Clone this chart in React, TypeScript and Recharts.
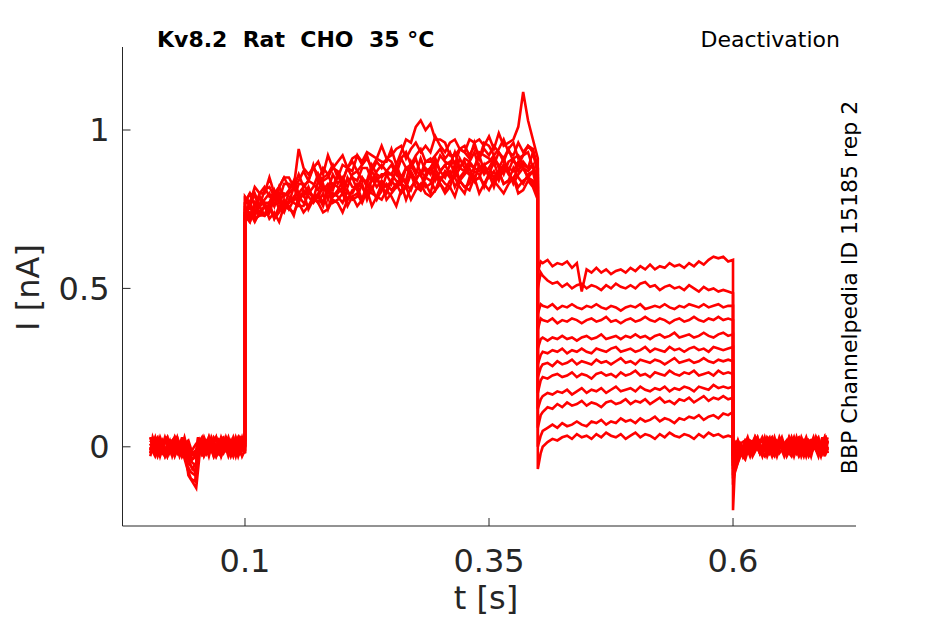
import { LineChart, Line, XAxis, YAxis } from 'recharts';

// time grids (s); sweeps alternate between grid A and grid B in the baseline segments
const tPreA = [
  0.003, 0.008, 0.013, 0.018, 0.023, 0.028, 0.033, 0.038, 0.042, 0.046, 0.05,
  0.054, 0.058, 0.063, 0.068, 0.073, 0.078, 0.083, 0.088, 0.093, 0.097, 0.1,
];
const tPreB = [
  0.003, 0.0055, 0.0105, 0.0155, 0.0205, 0.0255, 0.0305, 0.0355, 0.041, 0.0445, 0.049,
  0.052, 0.056, 0.0605, 0.0655, 0.0705, 0.0755, 0.0805, 0.0855, 0.0905, 0.095, 0.1,
];
const tStep = [
  0.1, 0.105, 0.11, 0.115, 0.12, 0.125, 0.13, 0.135, 0.14, 0.145,
  0.15, 0.155, 0.16, 0.165, 0.17, 0.175, 0.18, 0.185, 0.19, 0.195,
  0.2, 0.205, 0.21, 0.215, 0.22, 0.225, 0.23, 0.235, 0.24, 0.245,
  0.25, 0.255, 0.26, 0.265, 0.27, 0.275, 0.28, 0.285, 0.29, 0.295,
  0.3, 0.305, 0.31, 0.315, 0.32, 0.325, 0.33, 0.335, 0.34, 0.345,
  0.35, 0.355, 0.36, 0.365, 0.37, 0.375, 0.38, 0.385, 0.39, 0.395,
  0.4,
];
const tTail = [
  0.4, 0.403, 0.405, 0.41, 0.415, 0.42, 0.425, 0.43, 0.435, 0.44,
  0.445, 0.45, 0.455, 0.46, 0.465, 0.47, 0.475, 0.48, 0.485, 0.49,
  0.495, 0.5, 0.505, 0.51, 0.515, 0.52, 0.525, 0.53, 0.535, 0.54,
  0.545, 0.55, 0.555, 0.56, 0.565, 0.57, 0.575, 0.58, 0.585, 0.59,
  0.595, 0.6,
];
const tPostA = [
  0.6, 0.602, 0.605, 0.61, 0.615, 0.62, 0.625, 0.63, 0.635, 0.64, 0.645,
  0.65, 0.655, 0.66, 0.665, 0.67, 0.675, 0.68, 0.685, 0.69, 0.694, 0.697,
];
const tPostB = [
  0.6, 0.603, 0.6075, 0.6125, 0.6175, 0.6225, 0.6275, 0.6325, 0.6375, 0.6425, 0.6475,
  0.6525, 0.6575, 0.6625, 0.6675, 0.6725, 0.6775, 0.6825, 0.6875, 0.6915, 0.695, 0.697,
];

// current (nA), one row per sweep
const preSweeps = [
  [0.01, -0.02, 0.03, -0.01, 0.02, -0.03, 0.01, 0.02, -0.02, -0.04, -0.03, 0.02, -0.01, 0.03, -0.02, 0.01, 0.02, -0.03, 0.01, -0.01, 0.03, 0.0],
  [-0.02, 0.03, -0.01, 0.02, -0.03, 0.01, -0.02, 0.03, -0.06, -0.08, -0.09, 0.01, 0.03, -0.02, 0.02, -0.03, 0.0, 0.02, -0.02, 0.03, -0.01, 0.02],
  [0.03, -0.01, 0.02, -0.03, 0.01, 0.03, -0.02, 0.0, -0.09, -0.11, -0.13, -0.01, 0.02, 0.01, -0.03, 0.02, -0.01, 0.03, -0.02, 0.01, -0.03, -0.01],
  [-0.01, 0.02, -0.03, 0.01, 0.03, -0.02, 0.02, -0.01, -0.07, -0.1, -0.11, 0.03, -0.02, 0.02, 0.01, -0.02, 0.03, -0.01, 0.02, -0.03, 0.02, 0.01],
  [0.02, 0.0, -0.02, 0.03, -0.01, 0.02, -0.03, 0.01, -0.03, -0.05, -0.06, 0.0, 0.02, -0.03, 0.03, 0.01, -0.02, 0.01, -0.03, 0.02, 0.0, -0.02],
  [-0.03, 0.01, 0.03, -0.02, 0.0, -0.01, 0.03, -0.03, 0.01, -0.02, -0.03, -0.02, 0.01, 0.02, -0.01, 0.03, -0.03, 0.02, 0.01, -0.02, 0.03, 0.01],
  [0.0, -0.03, 0.01, 0.02, -0.02, 0.03, -0.01, 0.02, -0.04, -0.07, -0.05, 0.02, -0.03, 0.0, 0.02, -0.02, 0.01, -0.01, 0.03, -0.02, 0.01, 0.02],
  [0.02, 0.01, -0.02, 0.0, 0.03, -0.03, 0.01, -0.02, 0.01, -0.03, -0.02, -0.03, 0.02, -0.01, 0.0, 0.03, -0.01, 0.02, -0.03, 0.01, -0.02, 0.0],
  [-0.02, 0.02, 0.0, -0.03, 0.01, 0.01, -0.02, 0.03, -0.02, -0.01, 0.01, 0.02, -0.02, 0.03, -0.03, 0.0, 0.02, -0.02, 0.0, 0.03, -0.01, -0.01],
  [0.01, -0.01, 0.02, 0.01, -0.03, 0.02, 0.03, -0.01, -0.05, -0.06, -0.08, 0.01, 0.0, -0.02, 0.03, -0.01, -0.03, 0.03, -0.01, 0.0, 0.02, 0.02],
  [-0.01, 0.03, -0.03, 0.02, 0.02, -0.02, 0.0, 0.01, 0.02, -0.02, -0.01, -0.01, 0.03, -0.01, -0.02, 0.02, 0.03, -0.02, 0.02, -0.03, 0.01, -0.02],
  [0.03, 0.0, 0.01, -0.02, -0.01, 0.0, 0.02, -0.03, -0.01, -0.04, -0.03, 0.03, -0.03, 0.02, 0.01, -0.03, 0.01, 0.0, -0.01, 0.02, -0.02, 0.01],
];

const stepSweeps = [
  [0.78, 0.76, 0.8, 0.76, 0.78, 0.8, 0.76, 0.82, 0.79, 0.81, 0.84, 0.8, 0.82, 0.84, 0.83, 0.81, 0.85, 0.86, 0.82, 0.86, 0.84, 0.88, 0.85, 0.84, 0.88, 0.88, 0.84, 0.87, 0.89, 0.87, 0.89, 0.86, 0.91, 0.88, 0.88, 0.91, 0.86, 0.9, 0.91, 0.88, 0.92, 0.9, 0.89, 0.93, 0.88, 0.91, 0.9, 0.88, 0.93, 0.92, 0.91, 0.89, 0.93, 0.9, 0.94, 0.9, 0.89, 0.92, 0.93, 0.88, 0.85],
  [0.77, 0.8, 0.79, 0.76, 0.81, 0.82, 0.79, 0.82, 0.85, 0.82, 0.82, 0.84, 0.87, 0.84, 0.89, 0.84, 0.88, 0.86, 0.89, 0.85, 0.89, 0.88, 0.87, 0.92, 0.89, 0.91, 0.88, 0.91, 0.9, 0.9, 0.94, 0.89, 0.93, 0.97, 0.96, 1.01, 1.03, 1.0, 1.02, 0.97, 0.97, 0.96, 0.92, 0.92, 0.94, 0.95, 0.92, 0.95, 0.91, 0.96, 0.95, 0.92, 0.94, 0.97, 0.93, 0.92, 0.96, 0.93, 0.95, 0.94, 0.88],
  [0.79, 0.77, 0.82, 0.8, 0.8, 0.85, 0.8, 0.82, 0.85, 0.85, 0.82, 0.94, 0.88, 0.86, 0.88, 0.9, 0.86, 0.92, 0.88, 0.9, 0.92, 0.88, 0.91, 0.92, 0.9, 0.93, 0.92, 0.91, 0.95, 0.91, 0.92, 0.94, 0.95, 0.91, 0.94, 0.96, 0.93, 0.95, 0.93, 0.98, 0.95, 0.93, 0.96, 0.97, 0.94, 0.93, 0.97, 0.96, 0.97, 0.95, 0.98, 0.94, 0.99, 0.95, 0.96, 0.97, 1.01, 1.12, 1.03, 0.97, 0.91],
  [0.77, 0.8, 0.76, 0.8, 0.82, 0.79, 0.8, 0.78, 0.83, 0.83, 0.82, 0.86, 0.82, 0.84, 0.88, 0.86, 0.84, 0.85, 0.88, 0.87, 0.84, 0.88, 0.9, 0.87, 0.89, 0.92, 0.87, 0.9, 0.88, 0.91, 0.9, 0.87, 0.91, 0.93, 0.89, 0.92, 0.94, 0.9, 0.9, 0.92, 0.94, 0.91, 0.93, 0.89, 0.94, 0.93, 0.91, 0.96, 0.91, 0.94, 0.92, 0.95, 0.93, 0.91, 0.94, 0.96, 0.91, 0.92, 0.95, 0.93, 0.88],
  [0.74, 0.77, 0.73, 0.79, 0.77, 0.77, 0.81, 0.77, 0.8, 0.79, 0.78, 0.83, 0.83, 0.8, 0.82, 0.86, 0.82, 0.81, 0.86, 0.83, 0.85, 0.82, 0.86, 0.87, 0.84, 0.84, 0.89, 0.86, 0.85, 0.87, 0.86, 0.89, 0.85, 0.88, 0.89, 0.86, 0.91, 0.87, 0.88, 0.91, 0.87, 0.89, 0.9, 0.86, 0.91, 0.88, 0.9, 0.93, 0.88, 0.89, 0.9, 0.92, 0.88, 0.91, 0.87, 0.91, 0.92, 0.89, 0.88, 0.93, 0.86],
  [0.76, 0.73, 0.76, 0.79, 0.76, 0.75, 0.8, 0.77, 0.76, 0.8, 0.82, 0.8, 0.79, 0.82, 0.78, 0.84, 0.81, 0.83, 0.81, 0.86, 0.82, 0.84, 0.85, 0.81, 0.85, 0.83, 0.87, 0.84, 0.86, 0.86, 0.83, 0.88, 0.85, 0.84, 0.9, 0.87, 0.86, 0.88, 0.86, 0.9, 0.87, 0.85, 0.89, 0.9, 0.88, 0.87, 0.89, 0.88, 0.92, 0.87, 0.88, 0.91, 0.89, 0.86, 0.9, 0.91, 0.87, 0.9, 0.88, 0.89, 0.84],
  [0.73, 0.77, 0.73, 0.76, 0.77, 0.74, 0.79, 0.78, 0.76, 0.77, 0.82, 0.78, 0.8, 0.81, 0.79, 0.79, 0.83, 0.78, 0.83, 0.82, 0.8, 0.85, 0.82, 0.82, 0.85, 0.82, 0.84, 0.85, 0.81, 0.86, 0.86, 0.84, 0.83, 0.88, 0.86, 0.84, 0.87, 0.85, 0.88, 0.84, 0.87, 0.89, 0.86, 0.85, 0.88, 0.9, 0.86, 0.88, 0.87, 0.89, 0.86, 0.9, 0.85, 0.89, 0.88, 0.87, 0.9, 0.88, 0.87, 0.89, 0.83],
  [0.74, 0.72, 0.77, 0.74, 0.73, 0.77, 0.76, 0.8, 0.75, 0.77, 0.79, 0.77, 0.81, 0.79, 0.77, 0.79, 0.82, 0.81, 0.79, 0.81, 0.84, 0.8, 0.8, 0.83, 0.82, 0.79, 0.85, 0.82, 0.84, 0.82, 0.84, 0.87, 0.83, 0.82, 0.87, 0.84, 0.82, 0.86, 0.88, 0.86, 0.84, 0.87, 0.85, 0.89, 0.84, 0.86, 0.88, 0.84, 0.89, 0.86, 0.88, 0.85, 0.87, 0.89, 0.86, 0.84, 0.89, 0.88, 0.85, 0.87, 0.82],
  [0.73, 0.71, 0.76, 0.76, 0.73, 0.74, 0.79, 0.75, 0.78, 0.75, 0.78, 0.79, 0.8, 0.75, 0.78, 0.8, 0.77, 0.82, 0.79, 0.8, 0.82, 0.78, 0.81, 0.82, 0.78, 0.83, 0.81, 0.85, 0.82, 0.8, 0.84, 0.82, 0.85, 0.83, 0.81, 0.85, 0.86, 0.82, 0.83, 0.88, 0.84, 0.86, 0.87, 0.82, 0.85, 0.87, 0.86, 0.84, 0.85, 0.89, 0.85, 0.87, 0.84, 0.88, 0.87, 0.83, 0.86, 0.88, 0.85, 0.84, 0.81],
  [0.73, 0.76, 0.72, 0.73, 0.76, 0.76, 0.72, 0.76, 0.74, 0.78, 0.77, 0.76, 0.76, 0.8, 0.79, 0.77, 0.8, 0.75, 0.8, 0.79, 0.77, 0.81, 0.78, 0.79, 0.83, 0.78, 0.82, 0.78, 0.81, 0.83, 0.81, 0.83, 0.8, 0.82, 0.86, 0.82, 0.81, 0.85, 0.84, 0.81, 0.85, 0.83, 0.82, 0.87, 0.84, 0.82, 0.83, 0.87, 0.86, 0.82, 0.86, 0.84, 0.87, 0.83, 0.84, 0.88, 0.85, 0.83, 0.86, 0.87, 0.8],
  [0.73, 0.71, 0.75, 0.73, 0.73, 0.77, 0.72, 0.74, 0.77, 0.76, 0.73, 0.79, 0.77, 0.76, 0.78, 0.79, 0.76, 0.81, 0.77, 0.78, 0.8, 0.76, 0.79, 0.8, 0.77, 0.81, 0.8, 0.79, 0.83, 0.78, 0.8, 0.82, 0.83, 0.78, 0.82, 0.84, 0.81, 0.83, 0.8, 0.86, 0.83, 0.81, 0.84, 0.85, 0.82, 0.8, 0.85, 0.84, 0.85, 0.83, 0.86, 0.82, 0.87, 0.83, 0.84, 0.85, 0.82, 0.84, 0.85, 0.83, 0.79],
  [0.72, 0.74, 0.71, 0.74, 0.76, 0.72, 0.74, 0.71, 0.76, 0.75, 0.74, 0.77, 0.74, 0.76, 0.79, 0.77, 0.74, 0.75, 0.78, 0.77, 0.74, 0.78, 0.79, 0.76, 0.78, 0.81, 0.76, 0.79, 0.78, 0.81, 0.79, 0.76, 0.81, 0.82, 0.78, 0.81, 0.83, 0.8, 0.79, 0.81, 0.83, 0.8, 0.82, 0.79, 0.84, 0.82, 0.81, 0.85, 0.8, 0.83, 0.81, 0.84, 0.82, 0.8, 0.83, 0.85, 0.8, 0.81, 0.84, 0.82, 0.78],
];

const tailSweeps = [
  [0.55, 0.585, 0.58, 0.59, 0.57, 0.58, 0.575, 0.585, 0.565, 0.58, 0.49, 0.56, 0.55, 0.565, 0.55, 0.56, 0.545, 0.555, 0.56, 0.55, 0.565, 0.555, 0.57, 0.56, 0.575, 0.56, 0.57, 0.565, 0.58, 0.57, 0.575, 0.565, 0.58, 0.57, 0.585, 0.575, 0.59, 0.6, 0.595, 0.6, 0.585, 0.59],
  [0.5, 0.55, 0.54, 0.525, 0.515, 0.52, 0.505, 0.515, 0.5, 0.51, 0.515, 0.5, 0.51, 0.505, 0.495, 0.51, 0.5, 0.515, 0.505, 0.5, 0.51, 0.5, 0.515, 0.52, 0.505, 0.51, 0.495, 0.505, 0.51, 0.5, 0.505, 0.495, 0.51, 0.5, 0.49, 0.505, 0.495, 0.5, 0.49, 0.495, 0.49, 0.485],
  [0.42, 0.45, 0.445, 0.44, 0.45, 0.435, 0.445, 0.44, 0.45, 0.44, 0.435, 0.445, 0.44, 0.45, 0.44, 0.435, 0.445, 0.44, 0.43, 0.44, 0.445, 0.44, 0.45, 0.435, 0.44, 0.445, 0.44, 0.45, 0.44, 0.435, 0.445, 0.44, 0.45, 0.445, 0.44, 0.45, 0.44, 0.445, 0.45, 0.44, 0.445, 0.445],
  [0.37, 0.405, 0.4, 0.395, 0.405, 0.39, 0.4, 0.395, 0.405, 0.4, 0.39, 0.4, 0.405, 0.395, 0.4, 0.41, 0.395, 0.4, 0.39, 0.4, 0.405, 0.395, 0.4, 0.41, 0.4, 0.395, 0.405, 0.4, 0.39, 0.4, 0.405, 0.395, 0.4, 0.41, 0.4, 0.395, 0.405, 0.4, 0.41, 0.4, 0.405, 0.4],
  [0.31, 0.34, 0.345, 0.335, 0.345, 0.34, 0.35, 0.34, 0.345, 0.335, 0.345, 0.35, 0.34, 0.345, 0.355, 0.34, 0.345, 0.35, 0.34, 0.35, 0.345, 0.355, 0.345, 0.35, 0.34, 0.35, 0.355, 0.345, 0.35, 0.36, 0.345, 0.35, 0.355, 0.345, 0.35, 0.36, 0.35, 0.345, 0.355, 0.36, 0.35, 0.355],
  [0.26, 0.29, 0.3, 0.295, 0.305, 0.3, 0.31, 0.295, 0.305, 0.3, 0.31, 0.3, 0.295, 0.31, 0.305, 0.3, 0.31, 0.315, 0.3, 0.305, 0.31, 0.3, 0.305, 0.315, 0.3, 0.31, 0.305, 0.3, 0.315, 0.305, 0.31, 0.3, 0.31, 0.315, 0.305, 0.31, 0.3, 0.315, 0.31, 0.305, 0.31, 0.315],
  [0.22, 0.25, 0.26, 0.265, 0.255, 0.27, 0.26, 0.265, 0.275, 0.26, 0.27, 0.265, 0.26, 0.275, 0.265, 0.27, 0.26, 0.27, 0.28, 0.265, 0.27, 0.26, 0.275, 0.27, 0.265, 0.275, 0.27, 0.26, 0.27, 0.28, 0.265, 0.27, 0.275, 0.265, 0.27, 0.28, 0.27, 0.265, 0.275, 0.27, 0.275, 0.27],
  [0.17, 0.21, 0.22, 0.215, 0.225, 0.23, 0.22, 0.225, 0.235, 0.22, 0.23, 0.225, 0.215, 0.23, 0.235, 0.225, 0.23, 0.22, 0.235, 0.225, 0.23, 0.24, 0.225, 0.23, 0.22, 0.235, 0.23, 0.225, 0.24, 0.23, 0.225, 0.235, 0.23, 0.24, 0.225, 0.23, 0.235, 0.225, 0.24, 0.23, 0.235, 0.23],
  [0.12, 0.15, 0.16, 0.17, 0.165, 0.175, 0.17, 0.18, 0.165, 0.175, 0.185, 0.17, 0.18, 0.175, 0.185, 0.17, 0.18, 0.19, 0.175, 0.18, 0.185, 0.175, 0.19, 0.18, 0.175, 0.185, 0.18, 0.19, 0.175, 0.185, 0.18, 0.19, 0.185, 0.175, 0.19, 0.185, 0.18, 0.195, 0.185, 0.19, 0.185, 0.19],
  [0.06, 0.1, 0.11, 0.125, 0.12, 0.135, 0.125, 0.14, 0.13, 0.135, 0.145, 0.13, 0.14, 0.135, 0.125, 0.14, 0.145, 0.135, 0.14, 0.15, 0.135, 0.145, 0.14, 0.15, 0.135, 0.145, 0.155, 0.14, 0.145, 0.135, 0.15, 0.145, 0.155, 0.14, 0.15, 0.16, 0.145, 0.155, 0.15, 0.16, 0.15, 0.155],
  [0.0, 0.035, 0.05, 0.06, 0.07, 0.06, 0.075, 0.065, 0.07, 0.08, 0.07, 0.065, 0.08, 0.075, 0.085, 0.07, 0.08, 0.075, 0.09, 0.08, 0.085, 0.075, 0.09, 0.08, 0.085, 0.095, 0.08, 0.09, 0.085, 0.075, 0.09, 0.085, 0.095, 0.09, 0.1, 0.085, 0.095, 0.1, 0.09, 0.105, 0.1, 0.11],
  [-0.07, -0.02, 0.0, 0.015, 0.025, 0.02, 0.03, 0.035, 0.025, 0.04, 0.03, 0.035, 0.025, 0.04, 0.03, 0.045, 0.035, 0.03, 0.04, 0.025, 0.035, 0.045, 0.03, 0.04, 0.035, 0.025, 0.04, 0.03, 0.045, 0.035, 0.03, 0.04, 0.035, 0.025, 0.04, 0.03, 0.045, 0.035, 0.04, 0.03, 0.035, 0.03],
];

const postSweeps = [
  [-0.03, 0.01, 0.02, -0.01, 0.03, -0.02, 0.01, 0.02, -0.03, 0.01, 0.0, 0.03, -0.02, 0.01, -0.01, 0.02, -0.03, 0.02, 0.01, -0.02, 0.03, 0.01],
  [-0.06, -0.03, 0.01, 0.02, -0.02, 0.03, -0.01, -0.03, 0.02, 0.0, 0.02, -0.02, 0.03, -0.01, 0.01, -0.03, 0.02, 0.0, -0.02, 0.03, -0.01, 0.02],
  [-0.2, -0.06, -0.04, 0.0, -0.02, 0.01, 0.03, -0.02, 0.01, -0.03, 0.02, 0.01, -0.02, 0.03, -0.01, 0.0, 0.02, -0.03, 0.03, -0.01, 0.01, -0.02],
  [-0.09, -0.07, -0.02, -0.04, 0.01, -0.01, 0.02, 0.01, -0.02, 0.03, -0.02, 0.0, 0.02, -0.03, 0.02, 0.01, -0.01, 0.03, -0.02, 0.0, 0.02, 0.01],
  [-0.05, -0.02, -0.05, -0.01, 0.02, -0.03, 0.0, 0.03, -0.01, 0.02, -0.03, 0.02, 0.0, 0.01, -0.02, 0.03, -0.01, -0.02, 0.02, 0.01, -0.03, 0.02],
  [-0.04, 0.01, -0.02, 0.02, 0.0, 0.02, -0.02, 0.01, 0.03, -0.02, 0.01, -0.03, 0.01, 0.02, 0.03, -0.02, 0.0, 0.01, -0.03, 0.02, 0.0, -0.01],
  [-0.03, -0.01, 0.02, -0.03, 0.01, 0.0, 0.03, -0.02, 0.0, 0.02, -0.01, 0.02, -0.03, 0.0, 0.02, -0.01, 0.03, -0.02, 0.01, -0.03, 0.02, 0.01],
  [-0.07, -0.05, -0.01, 0.01, -0.03, 0.02, -0.01, 0.0, 0.02, -0.02, 0.03, -0.01, 0.01, -0.02, 0.0, 0.02, -0.02, 0.01, 0.03, -0.01, -0.02, 0.0],
  [-0.06, 0.0, -0.03, 0.0, 0.02, -0.02, 0.01, -0.03, 0.03, 0.01, -0.01, 0.0, 0.02, -0.02, 0.03, -0.03, 0.01, 0.02, -0.01, 0.0, 0.03, -0.02],
  [-0.04, -0.02, 0.01, -0.02, 0.0, 0.03, -0.02, 0.02, -0.01, -0.03, 0.02, 0.01, -0.01, 0.03, -0.02, 0.01, -0.03, 0.0, 0.02, -0.02, 0.01, 0.03],
  [-0.1, -0.08, -0.04, -0.01, 0.01, -0.02, 0.02, -0.01, 0.01, 0.03, -0.02, 0.02, -0.01, -0.03, 0.01, 0.02, 0.0, -0.02, 0.03, 0.01, -0.01, 0.0],
  [-0.12, -0.04, -0.01, -0.03, 0.02, 0.01, -0.02, 0.03, -0.02, 0.0, 0.01, -0.02, 0.03, 0.01, -0.03, 0.0, 0.02, 0.01, -0.02, 0.02, 0.03, -0.01],
];

const xTicks = [0.1, 0.35, 0.6];
const yTicks = [0, 0.5, 1];

const AXIS = '#262626';

const sweeps = preSweeps.map((pre, k) => {
  const tPre = k % 2 === 0 ? tPreA : tPreB;
  const tPost = k % 2 === 0 ? tPostA : tPostB;
  return [
    ...tPre.map((t, j) => ({ t, i: pre[j] })),
    ...tStep.map((t, j) => ({ t, i: stepSweeps[k][j] })),
    ...tTail.map((t, j) => ({ t, i: tailSweeps[k][j] })),
    ...tPost.map((t, j) => ({ t, i: postSweeps[k][j] })),
  ];
});

export default function App() {
  return (
    <div
      style={{
        position: 'absolute',
        left: 0,
        top: 0,
        width: 945,
        height: 624,
        background: '#fff',
        fontFamily: '"DejaVu Sans", sans-serif',
      }}
    >
      <LineChart width={945} height={624} margin={{ top: 47, right: 89, bottom: 0, left: 0 }}>
        <XAxis
          type="number"
          dataKey="t"
          domain={[-0.0255, 0.726]}
          ticks={xTicks}
          interval={0}
          allowDataOverflow
          height={98}
          tickSize={-8}
          tickMargin={31}
          stroke={AXIS}
          tick={{ fill: AXIS, fontSize: 32 }}
        />
        <YAxis
          type="number"
          domain={[-0.25, 1.262]}
          ticks={yTicks}
          interval={0}
          allowDataOverflow
          width={122.5}
          tickSize={-8}
          tickMargin={21}
          stroke={AXIS}
          tick={{ fill: AXIS, fontSize: 32 }}
        />
        {sweeps.map((d, k) => (
          <Line
            key={k}
            data={d}
            dataKey="i"
            type="linear"
            stroke="#ff0000"
            strokeWidth={2.6}
            dot={false}
            isAnimationActive={false}
          />
        ))}
      </LineChart>
      <svg
        width={945}
        height={624}
        style={{ position: 'absolute', left: 0, top: 0, pointerEvents: 'none' }}
      >
        <text x={157} y={47} fontSize={22} fontWeight="bold" fill="#000" style={{ whiteSpace: 'pre' }}>
          {'Kv8.2  Rat  CHO  35 °C'}
        </text>
        <text x={840} y={47} fontSize={22} fill="#000" textAnchor="end">
          Deactivation
        </text>
        <text transform="translate(857,287.5) rotate(-90)" fontSize={22} fill="#000" textAnchor="middle">
          BBP Channelpedia ID 15185 rep 2
        </text>
        <text transform="translate(38.5,287.5) rotate(-90)" fontSize={32} fill={AXIS} textAnchor="middle">
          I [nA]
        </text>
        <text x={486} y={609} fontSize={32} fill={AXIS} textAnchor="middle">
          t [s]
        </text>
      </svg>
    </div>
  );
}
